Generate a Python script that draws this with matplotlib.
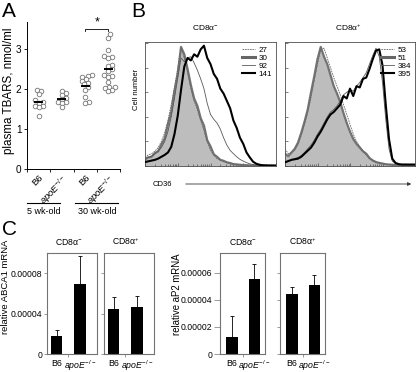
import numpy as np
import matplotlib
matplotlib.use('Agg')
import matplotlib.pyplot as plt
from matplotlib.lines import Line2D
from matplotlib.patches import FancyArrowPatch

plt.rcParams['font.family'] = ['Liberation Sans', 'DejaVu Sans']
plt.rcParams['mathtext.fontset'] = 'custom'
plt.rcParams['mathtext.rm'] = 'Liberation Sans'
plt.rcParams['mathtext.it'] = 'Liberation Sans:italic'
plt.rcParams['mathtext.bf'] = 'Liberation Sans:bold'

# ---------------- DATA ----------------
# Panel A: plasma TBARS (nmol/ml)
tbars_labels = ['B6', r'$\mathit{apoE}^{-/-}$', 'B6', r'$\mathit{apoE}^{-/-}$']
tbars_b6_5wk = [1.97, 1.95, 1.87, 1.72, 1.68, 1.65, 1.58, 1.57, 1.55, 1.33]
tbars_apoe_5wk = [1.95, 1.90, 1.85, 1.78, 1.75, 1.68, 1.67, 1.65, 1.55]
tbars_b6_30wk = [2.35, 2.33, 2.30, 2.25, 2.20, 2.15, 2.12, 2.05, 1.97, 1.80, 1.68, 1.65]
tbars_apoe_30wk = [3.37, 3.28, 2.98, 2.82, 2.80, 2.78, 2.60, 2.57, 2.50, 2.45,
                   2.35, 2.33, 2.30, 2.18, 2.05, 2.05, 2.02, 1.97, 1.95]
age_groups = ['5 wk-old', '30 wk-old']

# Panel B: CD36 histograms (channel, % of max)
hist_channel = np.arange(0, 1001, 25)
neg_labels = ['27', '30', '92', '141']
neg_27 = [7, 9, 10, 12, 15, 20, 27, 37, 50, 64, 80, 96, 88, 77, 63, 53, 46, 37, 29, 20, 13,
          9, 6, 5, 3.5, 3, 2, 1.5, 1.2, 1, 0.8, 0.6, 0.5, 0.4, 0.3, 0.3, 0.2, 0.2, 0.1, 0.1, 0.1]
neg_30 = [5.4, 7, 7.5, 10.5, 12, 17.5, 22.5, 34, 44, 61, 75, 97, 91, 79, 66, 55, 49, 39, 33, 21, 16,
          9.5, 7.5, 5, 4.2, 3, 2.4, 1.5, 1.3, 1, 0.8, 0.6, 0.5, 0.4, 0.3, 0.3, 0.2, 0.2, 0.1, 0.1, 0.1]
neg_92 = [6, 7, 8, 10, 12, 15, 20, 28, 40, 55, 72, 88, 85, 88, 89, 84, 78, 71, 63, 51, 42,
          38, 35, 30, 23, 17, 12.7, 10, 7.5, 5.4, 4, 2.7, 1.8, 1.1, 0.8, 0.6, 0.5, 0.4, 0.3, 0.3, 0.3]
neg_141 = [3.2, 3.8, 4.4, 5, 6, 7.5, 9, 11, 15.5, 26, 41, 62, 81, 88, 86, 91, 89, 95, 98, 88, 83,
           75, 71, 63, 59, 53, 47, 37, 31, 23, 18, 11, 7, 3.5, 1.8, 1, 0.6, 0.5, 0.4, 0.4, 0.3]
pos_labels = ['53', '51', '384', '395']
pos_53 = [14, 10, 11, 13, 18, 25, 34, 44, 56, 70, 83, 95, 96, 88, 80, 72, 65, 58, 50, 42, 34,
          26, 20, 16, 12, 9, 6, 4.5, 3.2, 2.5, 2, 1.4, 1.2, 1, 0.9, 0.8, 0.8, 0.8, 0.7, 0.7, 0.7]
pos_51 = [10, 8, 11, 14, 19, 27, 36, 46, 60, 73, 87, 97, 89, 83, 74, 65, 59, 52, 43, 35, 28,
          22, 18, 15, 12, 10, 6.5, 4.5, 3.2, 2.5, 2, 1.4, 1.2, 1, 0.9, 0.8, 0.8, 0.8, 0.7, 0.7, 0.7]
pos_384 = [3, 4, 5, 6, 7, 8.5, 11, 14, 17, 21, 26, 30, 35, 40, 44, 46, 49, 53, 58, 60, 62,
           61, 65, 68, 72, 76, 83, 90, 96, 89, 68, 38, 14, 4, 2, 1.5, 1.2, 1.2, 1.2, 1.2, 1.2]
pos_395 = [3, 4, 5, 5.5, 6, 7.5, 10, 12.5, 15, 19, 24, 28, 33, 38, 42, 44, 47, 50, 57, 55, 63,
           57, 65, 64, 71, 72, 79, 87, 94, 95, 82, 50, 22, 6, 2.5, 1.5, 1.2, 1.2, 1.2, 1.2, 1.2]

# Panel C: relative mRNA
bar_groups = ['B6', r'$\mathit{apoE}^{-/-}$']
abca1_neg = [1.78e-5, 6.98e-5]
abca1_neg_err = [0.59e-5, 2.70e-5]
abca1_pos = [4.44e-5, 4.67e-5]
abca1_pos_err = [1.16e-5, 1.09e-5]
ap2_neg = [1.24e-5, 5.49e-5]
ap2_neg_err = [1.59e-5, 1.11e-5]
ap2_pos = [4.41e-5, 5.07e-5]
ap2_pos_err = [0.49e-5, 0.73e-5]

# ---------------- LAYOUT ----------------
W, H = 416, 372
fig = plt.figure(figsize=(W / 100, H / 100), dpi=100)


def rect(l, t, r, b):
    return [l / W, 1 - b / H, (r - l) / W, (b - t) / H]


def fx(x):
    return x / W


def fy(y):
    return 1 - y / H


# ---------------- Panel A ----------------
axA = fig.add_axes(rect(27, 22, 120, 169))
groups = [tbars_b6_5wk, tbars_apoe_5wk, tbars_b6_30wk, tbars_apoe_30wk]
px_x = 93 / 4.0
px_y = (169 - 22) / 3.68


def swarm(vals, d=3.9):
    vals = np.asarray(vals, float)
    order = np.argsort(vals)
    placed = []
    offs = np.zeros(len(vals))
    cands = [0]
    for k in range(1, 12):
        cands += [k * 0.8, -k * 0.8]
    for i in order:
        yp = vals[i] * px_y
        for c in cands:
            if all((c - px) ** 2 + (yp - py) ** 2 >= d * d for px, py in placed):
                placed.append((c, yp))
                offs[i] = c / px_x
                break
    return offs


for i, g in enumerate(groups):
    offs = swarm(g)
    axA.scatter(np.full(len(g), i + 1) + offs, g, s=11, facecolors='white',
                edgecolors='0.45', linewidths=0.6, zorder=2, clip_on=False)
    axA.hlines(np.mean(g), i + 1 - 0.19, i + 1 + 0.19, colors='black', lw=1.4, zorder=3)

axA.set_xlim(0.5, 4.5)
axA.set_ylim(0, 3.68)
for s in ['top', 'right']:
    axA.spines[s].set_visible(False)
for s in ['left', 'bottom']:
    axA.spines[s].set_linewidth(0.7)
axA.set_yticks([0, 1, 2, 3])
axA.set_yticklabels(['0', '1', '2', '3'], fontsize=7.2)
axA.tick_params(axis='y', direction='out', length=2.5, width=0.6, pad=1.5)
axA.set_xticks([1, 2, 3, 4])
axA.set_xticklabels(tbars_labels, fontsize=6.8, rotation=45, ha='right', va='top',
                    rotation_mode='anchor')
axA.set_xticks([0.5, 1.5, 2.5, 3.5, 4.5], minor=True)
axA.tick_params(axis='x', which='major', length=0, pad=3)
axA.tick_params(axis='x', which='minor', direction='out', length=2, width=0.6)
# significance bracket
axA.plot([3, 3, 4, 4], [3.45, 3.5, 3.5, 3.45], color='black', lw=0.6, clip_on=False)
axA.text(3.5, 3.52, '*', ha='center', va='bottom', fontsize=9, clip_on=False)

fig.text(fx(9), fy(91), 'plasma TBARS, nmol/ml', rotation=90, ha='center', va='center',
         fontsize=8.4)
fig.add_artist(Line2D([fx(27), fx(60)], [fy(203), fy(203)], transform=fig.transFigure,
                      color='black', lw=0.8))
fig.add_artist(Line2D([fx(75), fx(118)], [fy(203), fy(203)], transform=fig.transFigure,
                      color='black', lw=0.8))
fig.text(fx(44), fy(211), age_groups[0], ha='center', va='center', fontsize=6.5)
fig.text(fx(97), fy(211), age_groups[1], ha='center', va='center', fontsize=6.5)

# ---------------- Panel B ----------------
def hist_panel(r, curves, labels, title, title_x):
    ax = fig.add_axes(r)
    c_dash, c_fill, c_thin, c_thick = curves
    ax.fill_between(hist_channel, c_fill, 0, color='0.74', lw=0, zorder=1)
    ax.plot(hist_channel, c_fill, color='0.45', lw=1.6, zorder=2)
    ax.plot(hist_channel, c_dash, color='0.4', lw=0.6, ls=(0, (2, 1)), zorder=3)
    ax.plot(hist_channel, c_thin, color='0.35', lw=0.6, zorder=4)
    ax.plot(hist_channel, c_thick, color='black', lw=1.5, zorder=5)
    ax.set_xlim(0, 1000)
    ax.set_ylim(0, 101)
    ax.set_xticks([0, 250, 500, 750, 1000])
    minors = [250 * (d + np.log10(k)) for d in range(4) for k in range(2, 10)]
    ax.set_xticks(minors, minor=True)
    ax.set_yticks([0, 20, 40, 60, 80, 100])
    ax.tick_params(which='both', direction='in', width=0.5, colors='0.3',
                   labelleft=False, labelbottom=False)
    ax.tick_params(which='major', length=2.5)
    ax.tick_params(which='minor', length=1.5)
    for s in ax.spines.values():
        s.set_color('0.3')
        s.set_linewidth(0.6)
    handles = [Line2D([], [], color='0.4', lw=0.6, ls=(0, (2, 1))),
               Line2D([], [], color='0.4', lw=2.2),
               Line2D([], [], color='0.35', lw=0.6),
               Line2D([], [], color='black', lw=1.5)]
    ax.legend(handles, labels, loc='upper right', bbox_to_anchor=(1.0, 1.0), frameon=False,
              fontsize=5.8, handlelength=1.7, handletextpad=0.4, labelspacing=0.05,
              borderaxespad=0.3, borderpad=0.2)
    fig.text(fx(title_x), fy(28), title, ha='center', va='center', fontsize=6)
    return ax


hist_panel(rect(145, 42, 276, 166), [neg_27, neg_30, neg_92, neg_141], neg_labels,
           r'CD8α$^{-}$', 205)
hist_panel(rect(285, 42, 415, 166), [pos_53, pos_51, pos_384, pos_395], pos_labels,
           r'CD8α$^{+}$', 348)
fig.text(fx(136), fy(89), 'Cell number', rotation=90, ha='center', va='center', fontsize=5.5)
fig.text(fx(153), fy(184), 'CD36', ha='left', va='center', fontsize=5.5)
fig.add_artist(FancyArrowPatch((fx(183), fy(184)), (fx(414), fy(184)),
                               transform=fig.transFigure, arrowstyle='-|>',
                               mutation_scale=5, lw=0.6, color='0.2'))

# ---------------- Panel C ----------------
def bar_panel(r, vals, errs, xlim, ylim, yticks, ylabels, title, show_labels, ticklen):
    ax = fig.add_axes(r)
    ax.bar([0, 1], vals, width=0.5, color='black', zorder=2)
    ax.errorbar([0, 1], vals, yerr=[[0, 0], errs], fmt='none', ecolor='black',
                elinewidth=0.6, capsize=1.4, capthick=0.6, zorder=1)
    ax.set_xlim(*xlim)
    ax.set_ylim(*ylim)
    ax.set_yticks(yticks)
    if show_labels:
        ax.set_yticklabels(ylabels, fontsize=6.2)
    else:
        ax.set_yticklabels([])
    ax.tick_params(axis='y', direction='out', length=ticklen, width=0.5, colors='0.45',
                   labelcolor='black', pad=1)
    ax.set_xticks([0, 1])
    ax.set_xticklabels(bar_groups, fontsize=6.3)
    ax.set_xticks([0.5], minor=True)
    ax.tick_params(axis='x', which='major', length=0, pad=3.5)
    ax.tick_params(axis='x', which='minor', direction='out', length=2, width=0.5,
                   colors='0.45')
    for s in ax.spines.values():
        s.set_color('0.45')
        s.set_linewidth(0.8)
    ax.annotate(title, xy=(0.5, 1), xycoords=('data', 'axes fraction'), xytext=(0, 4),
                textcoords='offset points', ha='center', va='bottom', fontsize=6.2)
    return ax


abca_xlim = (-0.4, 1.7)
abca_ylim = (0, 1.0e-4)
bar_panel(rect(47, 253, 97, 354), abca1_neg, abca1_neg_err, abca_xlim, abca_ylim,
          [0, 4e-5, 8e-5], ['0', '0.00004', '0.00008'], r'CD8α$^{-}$', True, 2.5)
bar_panel(rect(104, 253, 154, 354), abca1_pos, abca1_pos_err, abca_xlim, abca_ylim,
          [0, 4e-5, 8e-5], None, r'CD8α$^{+}$', False, 2)
fig.text(fx(6), fy(287), 'relative ABCA1 mRNA', rotation=90, ha='center', va='center',
         fontsize=6.8)

ap2_xlim = (-0.53, 1.47)
ap2_ylim = (0, 7.44e-5)
bar_panel(rect(220, 253, 265, 354), ap2_neg, ap2_neg_err, ap2_xlim, ap2_ylim,
          [0, 2e-5, 4e-5, 6e-5], ['0', '0.00002', '0.00004', '0.00006'], r'CD8α$^{-}$',
          True, 4.5)
bar_panel(rect(280, 253, 325, 354), ap2_pos, ap2_pos_err, ap2_xlim, ap2_ylim,
          [0, 2e-5, 4e-5, 6e-5], None, r'CD8α$^{+}$', False, 2)
fig.text(fx(177), fy(294), 'relative aP2 mRNA', rotation=90, ha='center', va='center',
         fontsize=6.9)

# Panel letters
fig.text(fx(2), fy(2), 'A', ha='left', va='top', fontsize=15)
fig.text(fx(131), fy(2), 'B', ha='left', va='top', fontsize=15)
fig.text(fx(2), fy(220), 'C', ha='left', va='top', fontsize=15)

fig.savefig('out.png', dpi=100)
